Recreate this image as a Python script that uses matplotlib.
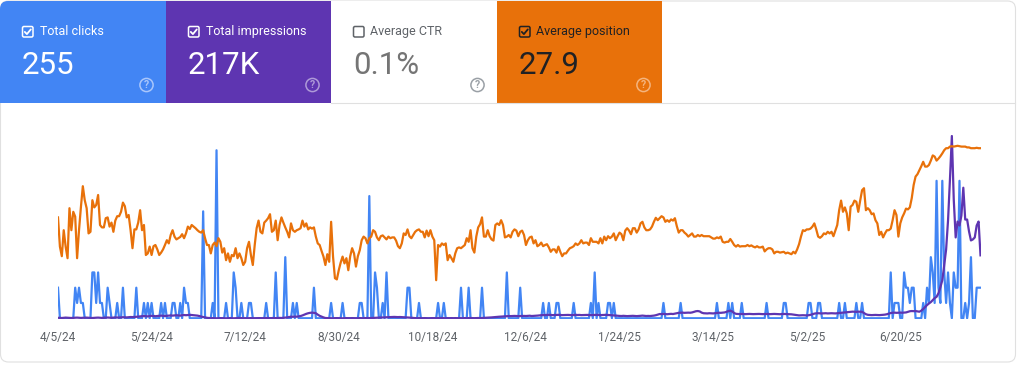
import matplotlib
matplotlib.use("Agg")
import matplotlib.pyplot as plt
import numpy as np
import pandas as pd
from matplotlib.patches import FancyBboxPatch, Rectangle, Circle

plt.rcParams['font.family'] = ['Roboto', 'DejaVu Sans']

# ---- values ----
first_day = "2024-04-05"
n_days = 484

# (day offset, clicks) for every day that had clicks; other days are 0
click_log = [
    (0, 2), (9, 2), (10, 1), (11, 2), (12, 1), (13, 1), (18, 3), (19, 3), (20, 1), (21, 3),
    (22, 1), (23, 1), (26, 2), (27, 1), (31, 1), (34, 2), (41, 2), (45, 1), (47, 1), (49, 1),
    (54, 1), (56, 1), (60, 1), (61, 1), (64, 1), (66, 2), (67, 1), (68, 1), (76, 7), (81, 1),
    (83, 11), (88, 1), (92, 3), (93, 2), (96, 1), (100, 1), (101, 1), (109, 1), (114, 3), (119, 4),
    (123, 1), (125, 1), (134, 2), (143, 1), (149, 1), (158, 1), (159, 1), (163, 8), (166, 3), (167, 2),
    (170, 1), (172, 3), (183, 2), (184, 2), (189, 1), (199, 1), (202, 1), (211, 2), (215, 2), (222, 2),
    (235, 3), (242, 2), (254, 1), (257, 1), (261, 1), (262, 1), (270, 1), (279, 1), (281, 3), (283, 1),
    (288, 1), (289, 1), (291, 1), (317, 1), (326, 1), (345, 1), (351, 1), (353, 1), (358, 1), (371, 1),
    (380, 1), (381, 1), (393, 1), (394, 1), (398, 1), (399, 1), (409, 1), (412, 1), (418, 1), (421, 1),
    (436, 3), (438, 1), (439, 1), (440, 1), (443, 3), (444, 2), (445, 2), (446, 1), (447, 2), (448, 2),
    (453, 1), (455, 2), (456, 1), (457, 4), (458, 3), (459, 1), (460, 9), (461, 2), (462, 1), (463, 9),
    (464, 3), (465, 1), (466, 3), (467, 1), (469, 3), (470, 2), (471, 2), (472, 9), (475, 1), (477, 1),
    (478, 4), (481, 2), (482, 2), (483, 2),
]

# daily impressions
impressions = [
    60, 55, 50, 60, 70, 65, 55, 50, 60, 65,
    70, 60, 55, 60, 65, 70, 60, 55, 50, 60,
    65, 70, 60, 55, 60, 70, 75, 65, 60, 70,
    80, 75, 70, 80, 90, 85, 80, 90, 100, 95,
    100, 110, 120, 130, 140, 150, 140, 130, 150, 160,
    150, 140, 150, 160, 170, 160, 150, 160, 170, 180,
    170, 180, 190, 180, 170, 190, 200, 190, 200, 210,
    200, 190, 180, 170, 150, 120, 100, 80, 60, 50,
    40, 45, 40, 35, 40, 45, 40, 40, 35, 40,
    45, 40, 35, 40, 45, 50, 45, 40, 35, 40,
    40, 45, 40, 35, 40, 45, 40, 40, 45, 50,
    45, 40, 45, 50, 45, 50, 55, 50, 60, 70,
    80, 100, 115, 110, 120, 115, 130, 150, 180, 220,
    260, 290, 310, 320, 310, 290, 220, 160, 120, 80,
    50, 45, 40, 40, 35, 40, 45, 40, 40, 35,
    40, 45, 40, 40, 45, 40, 35, 40, 45, 40,
    40, 45, 50, 45, 50, 55, 60, 70, 75, 80,
    85, 90, 95, 100, 95, 100, 105, 100, 95, 100,
    95, 90, 85, 80, 70, 60, 50, 45, 40, 45,
    40, 40, 45, 40, 35, 40, 45, 40, 40, 45,
    40, 45, 40, 40, 45, 40, 45, 40, 45, 40,
    45, 40, 40, 45, 40, 45, 50, 45, 40, 45,
    50, 45, 50, 55, 60, 65, 70, 80, 90, 100,
    110, 115, 120, 125, 130, 140, 150, 145, 150, 155,
    150, 145, 150, 160, 155, 150, 160, 165, 150, 155,
    160, 170, 180, 190, 200, 195, 200, 210, 200, 195,
    200, 205, 210, 200, 195, 200, 210, 205, 200, 195,
    200, 210, 200, 205, 195, 200, 210, 205, 200, 195,
    200, 205, 210, 200, 195, 200, 205, 210, 200, 195,
    190, 180, 170, 160, 155, 150, 160, 150, 145, 150,
    155, 160, 150, 145, 150, 160, 170, 160, 150, 155,
    150, 160, 170, 190, 220, 250, 245, 255, 250, 240,
    250, 260, 250, 270, 290, 310, 315, 320, 310, 315,
    320, 315, 330, 360, 390, 400, 380, 320, 290, 285,
    280, 290, 285, 280, 290, 300, 315, 310, 320, 330,
    360, 400, 415, 380, 300, 260, 250, 245, 255, 250,
    245, 250, 255, 250, 245, 250, 260, 255, 250, 245,
    250, 255, 250, 245, 250, 255, 250, 245, 240, 250,
    255, 250, 245, 240, 235, 220, 200, 185, 180, 185,
    190, 185, 180, 190, 210, 240, 270, 285, 290, 285,
    280, 285, 290, 280, 285, 290, 285, 280, 290, 300,
    310, 320, 330, 345, 355, 365, 370, 365, 360, 370,
    365, 360, 300, 240, 210, 200, 195, 200, 205, 200,
    195, 200, 210, 220, 240, 270, 300, 315, 320, 310,
    315, 320, 315, 320, 330, 360, 390, 400, 395, 400,
    380, 365, 420, 500, 600, 700, 780, 850, 950, 1050,
    1115, 1300, 1600, 1950, 2700, 3500, 4950, 7000, 9200, 6000,
    4100, 4900, 4700, 5200, 6600, 5000, 5000, 4400, 3950, 4000,
    4100, 4700, 4900, 3200,
]

# daily average position
avg_position = [
    25.6, 32.9, 35.3, 28.8, 32.9, 35.8, 23.3, 28.8, 24.2, 25.4,
    35.8, 28.8, 23.0, 17.8, 21.3, 23.3, 29.6, 29.2, 21.3, 23.1,
    22.5, 20.0, 27.5, 28.1, 28.1, 25.8, 25.6, 27.9, 26.9, 29.2,
    26.4, 25.3, 25.3, 24.2, 21.9, 22.8, 25.6, 25.0, 28.8, 33.3,
    28.6, 28.6, 26.9, 23.8, 28.8, 27.5, 35.0, 34.6, 32.9, 35.0,
    32.8, 32.5, 33.6, 35.0, 34.4, 33.6, 32.5, 31.3, 32.1, 30.0,
    28.8, 30.4, 31.1, 30.8, 30.5, 29.8, 30.8, 29.6, 27.9, 28.5,
    27.5, 27.9, 28.3, 28.8, 29.2, 29.4, 28.8, 30.8, 32.5, 32.5,
    34.6, 32.5, 31.9, 32.8, 30.8, 31.7, 34.4, 33.3, 36.3, 34.6,
    36.7, 35.0, 35.3, 33.3, 35.8, 34.6, 35.8, 37.5, 36.7, 33.3,
    31.7, 35.0, 37.5, 32.5, 28.3, 26.4, 29.2, 29.6, 26.9, 26.4,
    25.8, 24.8, 29.2, 28.8, 26.4, 31.3, 27.5, 25.6, 26.9, 28.1,
    29.2, 30.6, 27.1, 28.8, 29.2, 28.8, 28.6, 28.3, 26.4, 27.9,
    27.1, 28.6, 28.1, 28.4, 28.1, 30.4, 32.1, 32.5, 34.0, 35.4,
    37.5, 34.8, 36.7, 26.7, 35.4, 40.8, 41.1, 38.8, 36.9, 35.4,
    37.1, 35.8, 38.8, 35.3, 33.3, 34.6, 37.9, 35.3, 33.8, 31.3,
    30.4, 30.8, 32.1, 30.8, 30.4, 28.8, 29.2, 30.6, 31.3, 30.3,
    30.1, 30.6, 31.1, 30.4, 30.8, 30.6, 30.6, 31.4, 32.8, 33.3,
    32.1, 29.6, 30.0, 28.6, 30.3, 30.8, 30.0, 29.2, 28.8, 28.6,
    29.2, 29.2, 30.6, 28.9, 30.3, 28.8, 30.4, 31.3, 41.3, 32.5,
    32.9, 32.1, 32.5, 32.1, 36.3, 35.0, 35.8, 36.7, 34.6, 33.3,
    33.1, 33.3, 32.9, 32.5, 30.8, 31.7, 28.8, 33.3, 34.4, 30.4,
    28.1, 27.3, 25.6, 30.4, 30.4, 28.8, 30.3, 31.1, 31.4, 27.5,
    27.1, 27.5, 26.3, 27.5, 30.6, 30.4, 30.0, 30.6, 29.2, 28.6,
    28.9, 30.3, 29.2, 28.9, 30.0, 32.5, 31.3, 30.6, 30.4, 32.1,
    31.3, 32.8, 32.5, 31.9, 32.8, 32.5, 32.3, 33.1, 34.2, 33.6,
    33.6, 34.4, 32.9, 34.2, 35.3, 34.6, 34.6, 33.9, 33.3, 33.1,
    32.8, 32.1, 32.5, 32.1, 31.3, 32.1, 31.9, 31.9, 32.5, 30.8,
    31.7, 31.7, 31.7, 32.1, 30.8, 32.1, 30.4, 31.3, 30.3, 30.8,
    30.4, 29.6, 31.3, 30.3, 29.4, 29.8, 31.3, 28.9, 28.3, 28.9,
    29.8, 28.3, 28.3, 29.4, 28.6, 27.1, 26.7, 28.1, 28.8, 28.8,
    28.6, 27.9, 26.7, 25.7, 26.3, 25.8, 25.3, 25.6, 26.7, 26.3,
    26.7, 26.1, 26.4, 25.8, 27.8, 29.4, 28.8, 28.8, 29.4, 29.8,
    30.4, 30.0, 29.6, 30.4, 30.4, 30.0, 30.3, 30.0, 30.3, 30.3,
    30.3, 30.3, 30.6, 30.9, 30.9, 30.6, 30.8, 30.4, 31.7, 31.9,
    31.7, 31.7, 31.0, 31.7, 32.5, 32.9, 32.5, 32.9, 32.8, 32.8,
    32.8, 32.5, 32.8, 32.6, 32.9, 33.1, 32.8, 33.1, 33.1, 32.9,
    34.1, 33.6, 33.3, 33.3, 33.6, 34.6, 34.2, 34.2, 34.4, 34.3,
    34.2, 34.6, 34.4, 34.6, 34.8, 34.2, 34.6, 33.6, 32.3, 30.4,
    28.8, 29.0, 28.6, 28.6, 28.4, 27.9, 27.1, 28.6, 30.4, 30.7,
    30.3, 29.6, 29.8, 29.2, 29.6, 29.2, 30.3, 28.9, 27.5, 23.8,
    21.4, 24.2, 23.1, 24.6, 28.8, 22.9, 22.5, 21.4, 21.7, 24.2,
    21.4, 18.8, 18.3, 23.8, 23.3, 23.8, 24.8, 24.6, 26.3, 27.1,
    30.0, 29.2, 30.6, 29.6, 28.8, 28.8, 28.4, 26.3, 23.8, 25.0,
    30.4, 27.1, 25.6, 24.6, 23.4, 23.6, 23.1, 20.8, 17.5, 15.4,
    14.8, 13.8, 12.8, 11.7, 12.9, 12.9, 12.5, 11.4, 10.1, 10.4,
    11.4, 10.9, 10.3, 9.6, 8.8, 8.3, 8.3, 7.9, 7.8, 7.9,
    7.8, 7.7, 7.8, 7.9, 7.9, 7.9, 8.1, 8.1, 8.3, 8.3,
    8.3, 8.2, 8.3, 8.3,
]

tick_labels = ["4/5/24", "5/24/24", "7/12/24", "8/30/24", "10/18/24",
               "12/6/24", "1/24/25", "3/14/25", "5/2/25", "6/20/25"]

card_titles = ["Total clicks", "Total impressions", "Average CTR", "Average position"]
card_values = ["255", "217K", "0.1%", "27.9"]
card_checked = [True, True, False, True]

# ---- styling ----
BLUE, PURPLE, ORANGE = "#4285f4", "#5e35b1", "#e8710a"
card_bg = [BLUE, PURPLE, "#ffffff", ORANGE]
card_fg = ["#ffffff", "#ffffff", "#5f6368", "#202124"]
card_val = ["#ffffff", "#ffffff", "#757575", "#202124"]
card_help = ["#a9c6fb", "#ae9ad8", "#9aa0a6", "#f4b47e"]
card_left = [0, 166, 331, 497]
card_w = [166, 165, 166, 165]

dates = pd.date_range(first_day, periods=n_days, freq="D")
clicks = np.zeros(n_days)
for day, n in click_log:
    clicks[day] = n

W, H = 1024, 366
fig = plt.figure(figsize=(W / 100, H / 100), dpi=100)
fig.patch.set_facecolor("white")

# background layer in pixel coordinates for the scorecards
bg = fig.add_axes([0, 0, 1, 1], zorder=0)
bg.set_xlim(0, W)
bg.set_ylim(H, 0)
bg.axis("off")

bg.add_patch(FancyBboxPatch((0.5, 1), 1015, 361, boxstyle="round,pad=0,rounding_size=8",
                            fc="white", ec="#e0e0e0", lw=0.8))
bg.plot([331, 1015], [103, 103], color="#e0e0e0", lw=0.8)

for i in range(4):
    x0, w = card_left[i], card_w[i]
    if i == 0:
        bg.add_patch(FancyBboxPatch((x0, 1), w, 102, boxstyle="round,pad=0,rounding_size=8",
                                    fc=card_bg[i], ec="none"))
        bg.add_patch(Rectangle((x0 + 10, 1), w - 10, 102, fc=card_bg[i], ec="none"))
        bg.add_patch(Rectangle((x0, 11), w, 92, fc=card_bg[i], ec="none"))
    else:
        bg.add_patch(Rectangle((x0, 1), w, 102, fc=card_bg[i], ec="none"))

    cx = x0 + 22.5
    bg.add_patch(FancyBboxPatch((cx, 26.5), 10.5, 10.5, boxstyle="round,pad=0,rounding_size=1.5",
                                fc="none", ec=card_fg[i], lw=1.1))
    if card_checked[i]:
        bg.plot([cx + 2.3, cx + 4.4, cx + 8.3], [31.9, 34.1, 29.4], color=card_fg[i],
                lw=1.3, solid_capstyle="round", solid_joinstyle="round")
    bg.text(cx + 17, 31.8, card_titles[i], ha="left", va="center", fontsize=9,
            color=card_fg[i])
    bg.text(cx - 0.5, 74.5, card_values[i], ha="left", va="baseline", fontsize=22.5,
            color=card_val[i])
    hx = x0 + 146.5
    bg.add_patch(Circle((hx, 85), 6.6, fc="none", ec=card_help[i], lw=1.1))
    bg.text(hx, 85.5, "?", ha="center", va="center", fontsize=7.5, fontweight="bold",
            color=card_help[i])

# ---- the chart: one hidden y scale per metric ----
left, right, top, bottom = 58, 980.5, 135, 319
ax = fig.add_axes([left / W, 1 - bottom / H, (right - left) / W, (bottom - top) / H], zorder=2)
ax.patch.set_visible(False)
ax_imp = ax.twinx()
ax_pos = ax.twinx()

ax_pos.plot(dates, avg_position, color=ORANGE, lw=1.6, solid_joinstyle="round")
ax.plot(dates, clicks, color=BLUE, lw=1.6, solid_joinstyle="round")
ax_imp.plot(dates, impressions, color=PURPLE, lw=1.6, solid_joinstyle="round")

ax.set_ylim(-0.05, 12.0)
ax_imp.set_ylim(0, 9250)
ax_pos.set_ylim(51, 5)
ax.set_xlim(dates[0], dates[-1])

tick_dates = pd.to_datetime(tick_labels, format="%m/%d/%y")
ax.set_xticks(tick_dates)
ax.set_xticklabels(tick_labels)
ax.tick_params(axis="x", length=0, pad=9, labelsize=8.5, labelcolor="#5f6368")

for a in (ax, ax_imp, ax_pos):
    a.set_yticks([])
    for s in a.spines.values():
        s.set_visible(False)

fig.savefig("out.png", dpi=100, facecolor="white")
